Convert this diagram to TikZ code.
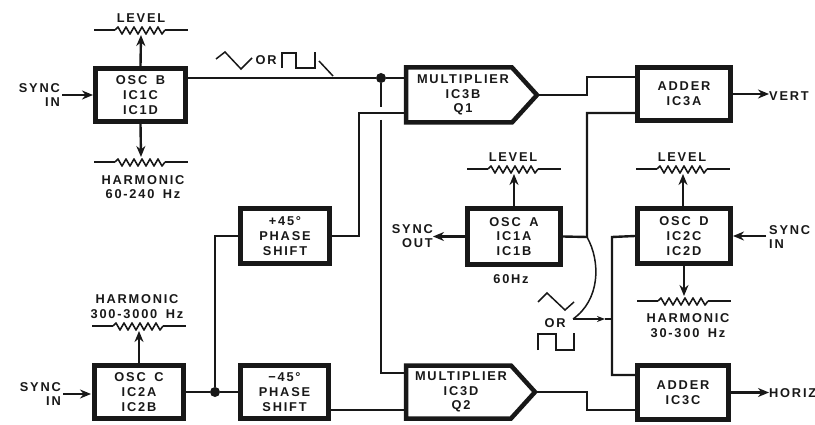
\documentclass[tikz,border=0pt]{standalone}
\usepackage{fontspec}
\setmainfont[LetterSpace=14,WordSpace=1.6]{Liberation Sans}
\usetikzlibrary{arrows.meta,calc}
\tikzset{
  x=1pt,y=-1pt,
  block/.style={draw=ink,line width=5pt,minimum width=#1,inner sep=0pt,align=center,lab},
  block/.default=90pt,
  lab/.style={font=\fontsize{12.8}{14.8}\selectfont\bfseries,text=ink,inner sep=0pt,align=center},
  wire/.style={draw=ink,line width=2.4pt,line join=miter},
  thin wire/.style={draw=ink,line width=1.5pt},
  tipped/.style={wire,-{Stealth[length=11pt,width=9pt]}},
  dotnode/.style={circle,fill=ink,minimum size=10pt,inner sep=0pt},
  pot/.pic={
    \draw[wire] (-47,0) -- (-26,0);
    \draw[wire] (24,0) -- (47,0);
    \draw[draw=ink,line width=1.6pt,line join=round] (-26,0) -- (-23,-3) -- (-19,4) -- (-15,-3) -- (-11,4) -- (-7,-3) -- (-3,4) -- (1,-3) -- (5,4) -- (9,-3) -- (13,4) -- (17,-3) -- (21,4) -- (24,0);
  }
}
\definecolor{ink}{HTML}{181818}
\begin{document}
\begin{tikzpicture}
\useasboundingbox (0,0) rectangle (815,425);
% blocks
\node[block,minimum width=90pt,minimum height=53pt] (oscb) at (140.5,95) {OSC B\\IC1C\\IC1D};
\node[block,minimum width=89pt,minimum height=55pt] (ps1) at (285,236) {+45°\\PHASE\\SHIFT};
\node[block,minimum width=88pt,minimum height=53pt] (ps2) at (284.5,392) {−45°\\PHASE\\SHIFT};
\node[block,minimum width=89pt,minimum height=53pt] (oscc) at (139,392) {OSC C\\IC2A\\IC2B};
\node[block,minimum width=93pt,minimum height=53pt] (adda) at (684,94) {ADDER\\IC3A};
\node[block,minimum width=93pt,minimum height=56pt] (osca) at (514,236.5) {OSC A\\IC1A\\IC1B};
\node[block,minimum width=93pt,minimum height=55pt] (oscd) at (684,236) {OSC D\\IC2C\\IC2D};
\node[block,minimum width=91pt,minimum height=54pt] (addc) at (683,392.5) {ADDER\\IC3C};
% multipliers
\draw[draw=ink,line width=4.5pt,line join=miter] (406,67.5) -- (512,67.5) -- (537,95) -- (512,122.5) -- (406,122.5) -- cycle;
\node[lab] (mult1) at (463,95) {MULTIPLIER\\IC3B\\Q1};
\draw[draw=ink,line width=4.5pt,line join=miter] (406,365.5) -- (511,365.5) -- (535,392) -- (511,418.5) -- (406,418.5) -- cycle;
\node[lab] (mult2) at (461,392) {MULTIPLIER\\IC3D\\Q2};
\coordinate (m1a) at (404,78);
\coordinate (m1b) at (404,113);
\coordinate (m1o) at (538,95);
\coordinate (m2a) at (404,373);
\coordinate (m2b) at (404,410);
\coordinate (m2o) at (536,392);
% potentiometers
\coordinate (potb1) at (141,30);
\coordinate (potb2) at (141,162);
\coordinate (potc) at (139,326);
\coordinate (pota) at (514,169);
\coordinate (potd1) at (683,169);
\coordinate (potd2) at (684,301);
\pic at (potb1) {pot};
\pic at (potb2) {pot};
\pic at (potc) {pot};
\pic at (pota) {pot};
\pic at (potd1) {pot};
\pic at (potd2) {pot};
\draw[tipped] (oscb.north) -- ($(potb1)+(0,5)$);
\draw[tipped] (oscb.south) -- ($(potb2)+(0,-5)$);
\draw[tipped] (oscc.north) -- ($(potc)+(0,5)$);
\draw[tipped] (osca.north) -- ($(pota)+(0,5)$);
\draw[tipped] (oscd.north -| potd1) -- ($(potd1)+(0,5)$);
\draw[tipped] (oscd.south -| potd2) -- ($(potd2)+(0,-5)$);
% left column wiring
\node[dotnode] (j1) at (381,78) {};
\node[dotnode] (j2) at (215,392) {};
\coordinate (gapt) at (381,107);
\coordinate (gapb) at (381,120);
\coordinate (m2c) at (381,373);
\coordinate (ps1up) at (359,236);
\draw[wire] (oscb.east |- j1) -- (j1) -- (m1a);
\draw[wire] (j1) -- (gapt);
\draw[wire] (gapb) -- (m2c) -- (m2a);
\draw[wire] (ps1.east) -- (ps1up) -- (ps1up |- m1b) -- (m1b);
\draw[wire] (oscc.east) -- (j2) -- (ps2.west);
\draw[wire] (j2) -- (j2 |- ps1.west) -- (ps1.west);
\draw[wire] (ps2.east |- m2b) -- (m2b);
% right column wiring
\coordinate (r1) at (587,95);
\coordinate (r2) at (587,392);
\coordinate (busd) at (612,237);
\coordinate (orin) at (612,319);
\coordinate (orout) at (573,319);
\coordinate (ormid) at (605,319);
\coordinate (arcs) at (587,237);
\draw[wire] (m1o) -- (r1) -- (587,77) -- (adda.west |- 0,77);
\draw[wire] (osca.east) -- (arcs) -- (587,113) -- (adda.west |- 0,113);
\draw[wire] (oscd.west) -- (busd) -- (612,375) -- (addc.west |- 0,375);
\draw[wire] (m2o) -- (r2) -- (587,410) -- (addc.west |- 0,410);
\draw[thin wire] (arcs) .. controls (601,262) and (600,300) .. (orout);
\draw[thin wire,-{Stealth[length=8pt,width=6pt]}] (orout) -- (ormid);
\draw[thin wire] (ormid) -- (orin);
% inputs and outputs
\node[lab,align=right,anchor=east] (sb) at (60,95) {SYNC\\IN};
\node[lab,align=right,anchor=east] (sc) at (61,394) {SYNC\\IN};
\node[lab,align=right,anchor=east] (so) at (433,236) {SYNC\\OUT};
\node[lab,align=left,anchor=west] (sd) at (769,237) {SYNC\\IN};
\node[lab,anchor=west] (vert) at (769,96) {VERT};
\node[lab,anchor=west] (horiz) at (769,393) {HORIZ};
\draw[tipped] (sb.east |- oscb.west) ++(2,0) -- (oscb.west);
\draw[tipped] (sc.east |- oscc.west) ++(2,2) -- (91,394);
\draw[tipped] (osca.west) -- (so.east |- osca.west);
\draw[tipped] (sd.west |- oscd.east) ++(-3,0) -- (oscd.east);
\draw[tipped] (adda.east) -- (vert.west |- adda.east);
\draw[tipped] (addc.east) -- (horiz.west |- addc.east);
% labels
\node[lab] (l1) at (141,18) {LEVEL};
\node[lab] (l2) at (513,157) {LEVEL};
\node[lab] (l3) at (682,157) {LEVEL};
\node[lab] (h1) at (143,187) {HARMONIC\\60-240 Hz};
\node[lab] (h2) at (137,307) {HARMONIC\\300-3000 Hz};
\node[lab] (h3) at (688,326) {HARMONIC\\30-300 Hz};
\node[lab] (f) at (511,279) {60Hz};
\node[lab] (or1) at (266,60) {OR};
\node[lab] (or2) at (555,323) {OR};
% waveforms
\draw[thin wire,line join=miter] (216,59) -- (225,52) -- (241,69) -- (252,58);
\draw[thin wire,line join=miter] (282,68) -- (282,53) -- (296,53) -- (296,68) -- (315,68) -- (315,52);
\draw[thin wire] (319,61) -- (333,76);
\draw[thin wire,line join=miter] (538,302) -- (547,293) -- (565,310) -- (574,302);
\draw[thin wire,line join=miter] (538,350) -- (538,334) -- (556,334) -- (556,350) -- (574,350) -- (574,333);
\end{tikzpicture}
\end{document}
